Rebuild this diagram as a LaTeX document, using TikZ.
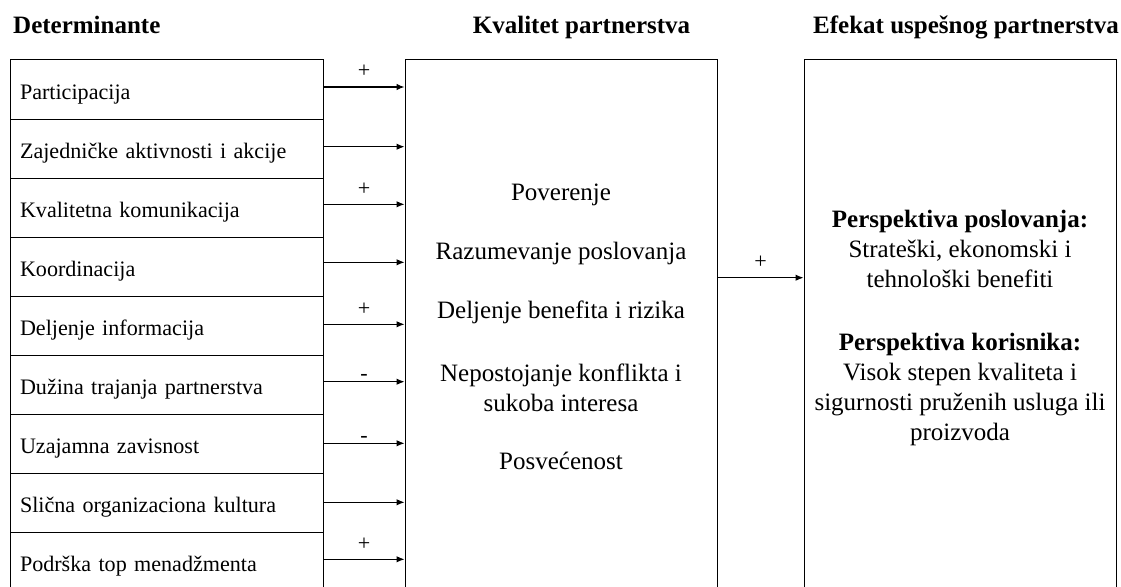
\documentclass[tikz,border=0pt]{standalone}
\usepackage{fontspec}
\setmainfont{Liberation Serif}
\usetikzlibrary{arrows.meta,calc}
\newcommand\rowfont{\fontsize{22.1}{27}\selectfont}
\newcommand\boxfont{\fontsize{25}{30}\selectfont}
\newcommand\headfont{\fontsize{25}{30}\selectfont\bfseries}

\begin{document}
\begin{tikzpicture}[x=1pt,y=-1pt,
  rowbox/.style={draw, line width=1pt, text width=293pt, inner xsep=10pt,
    inner ysep=0pt, minimum height=59pt, align=left,
    text height=19.5pt, text depth=0.5pt, font=\rowfont},
  bigbox/.style={draw, line width=1pt, minimum width=312pt,
    minimum height=532pt, inner sep=0pt},
  arr/.style={line width=1.1pt, -{Latex[length=8pt,width=6.5pt]}},
  plus/.style={font=\rowfont, anchor=base, inner sep=0pt, yshift=9.3pt},
  minus/.style={font=\rowfont, anchor=base, inner sep=0pt, yshift=1pt},
  head/.style={font=\headfont, anchor=base, inner sep=0pt},
  txt/.style={font=\boxfont, anchor=base, align=center, inner sep=0pt}]

\path[use as bounding box, fill=white] (0,0) rectangle (1121,586);

% column headings
\node[head, anchor=base west] (h1) at (13,34) {Determinante};
\node[head] (h2) at (581.5,34) {Kvalitet partnerstva};
\node[head] (h3) at (966,34) {Efekat uspešnog partnerstva};

% determinants
\foreach \i/\t in {1/Participacija, 2/Zajedničke aktivnosti i akcije,
  3/Kvalitetna komunikacija, 4/Koordinacija, 5/Deljenje informacija,
  6/Dužina trajanja partnerstva, 7/Uzajamna zavisnost,
  8/Slična organizaciona kultura, 9/Podrška top menadžmenta}
  \node[rowbox] (r\i) at (166.5,{60+59*(\i-0.5)}) {\t};

% partnership quality and effect boxes
\node[bigbox] (mid) at (561,326) {};
\node[bigbox] (eff) at (960,326) {};

% multi-line texts are anchored at the baseline of their last line
\node[txt] (k1) at (561,200) {Poverenje};
\node[txt] (k2) at (561,259.5) {Razumevanje poslovanja};
\node[txt] (k3) at (561,318) {Deljenje benefita i rizika};
\node[txt] (k4) at (561,411.5) {Nepostojanje konflikta i\\sukoba interesa};
\node[txt] (k5) at (561,469) {Posvećenost};

\node[txt] (e1) at (960,440) {\textbf{Perspektiva poslovanja:}\\
  Strateški, ekonomski i\\tehnološki benefiti\\[33pt]
  \textbf{Perspektiva korisnika:}\\Visok stepen kvaliteta i\\
  sigurnosti pruženih usluga ili\\proizvoda};

% arrows from determinants
\draw[arr] ($(r1.east)+(0,-2.5)$) coordinate (a1) -- node[plus] {+} (a1 -| mid.west);
\draw[arr] ($(r2.east)+(0,-1.8)$) coordinate (a2) -- (a2 -| mid.west);
\draw[arr] ($(r3.east)+(0,-3.2)$) coordinate (a3) -- node[plus] {+} (a3 -| mid.west);
\draw[arr] ($(r4.east)+(0,-4.2)$) coordinate (a4) -- (a4 -| mid.west);
\draw[arr] ($(r5.east)+(0,-1.2)$) coordinate (a5) -- node[plus] {+} (a5 -| mid.west);
\draw[arr] ($(r6.east)+(0,-2.8)$) coordinate (a6) -- node[minus] {-} (a6 -| mid.west);
\draw[arr] ($(r7.east)+(0,-0.2)$) coordinate (a7) -- node[minus] {-} (a7 -| mid.west);
\draw[arr] ($(r8.east)+(0,-0.2)$) coordinate (a8) -- (a8 -| mid.west);
\draw[arr] ($(r9.east)+(0,-2.2)$) coordinate (a9) -- node[plus] {+} (a9 -| mid.west);

% arrow from quality to effect
\coordinate (b1) at (mid.east |- 0,277.7);
\draw[arr] (b1) -- node[plus] {+} (b1 -| eff.west);
\end{tikzpicture}
\end{document}
